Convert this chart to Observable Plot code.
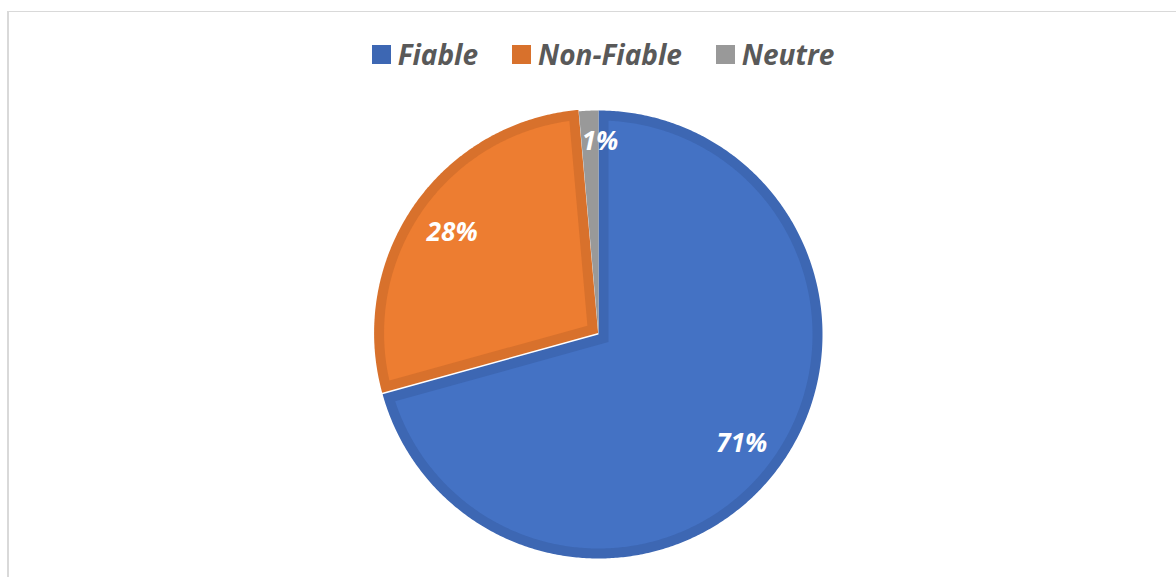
<!DOCTYPE html>
<html><head><meta charset="utf-8">
<script src="https://cdn.jsdelivr.net/npm/d3@7"></script>
<script src="https://cdn.jsdelivr.net/npm/@observablehq/plot@0.6"></script>
<style>
html,body{margin:0;padding:0;background:#fff;overflow:hidden;width:1176px;height:577px;}
#frame{position:absolute;left:7px;top:11px;width:1200px;height:600px;border-top:1px solid #d9d9d9;border-left:2px solid #d9d9d9;box-sizing:border-box;}
#legend{position:absolute;left:0;top:36px;width:1176px;height:36px;box-sizing:border-box;padding-left:30px;display:flex;justify-content:center;align-items:center;font-family:"Open Sans",sans-serif;font-weight:bold;font-style:italic;font-size:28px;color:#595959;}
#legend .item{display:flex;align-items:center;margin:0 17px;}
#legend .sw{width:19px;height:19px;margin-right:7px;}
#chart{position:absolute;left:0;top:80px;}
</style></head><body>
<div id="frame"></div>
<div id="legend"></div>
<div id="chart"></div>
<script>
// ---- data ----
const categories = ["Fiable", "Non-Fiable", "Neutre"];
const values = [70.7, 27.9, 1.4];
const valueLabels = ["71%", "28%", "1%"];

// ---- styles / layout ----
const fills = ["#4472C4", "#ED7D31", "#A0A0A0"];
const edges = ["#3D67B3", "#D8712C", "#999999"];
const insets = [10, 10, 0];
const explode = [0, 1.5, 0];
const labelR = [180, 178, 193];
const labelDx = [0, 0, 10];
const W = 1176, H = 497, cx = 598, cy = 254, R = 224;

// legend (HTML)
const legend = document.getElementById("legend");
categories.forEach((c, i) => {
  const it = document.createElement("div"); it.className = "item";
  const sw = document.createElement("div"); sw.className = "sw"; sw.style.background = edges[i];
  const tx = document.createElement("span"); tx.textContent = c;
  it.appendChild(sw); it.appendChild(tx); legend.appendChild(it);
});

// geometry
const total = d3.sum(values);
const angles = [];
let acc = 0;
values.forEach(v => { const a0 = acc / total * 2 * Math.PI; acc += v; angles.push([a0, acc / total * 2 * Math.PI]); });
const pt = (t, r) => [r * Math.sin(t), -r * Math.cos(t)];

function wedge(t0, t1, r, inset, off, key) {
  const pts = [];
  let a0 = t0, a1 = t1, rr = r;
  if (inset > 0) {
    const half = (t1 - t0) / 2, mid = (t0 + t1) / 2;
    pts.push(pt(mid, inset / Math.sin(half)));
    rr = r - inset;
    const d = Math.asin(inset / rr);
    a0 = t0 + d; a1 = t1 - d;
  } else {
    pts.push([0, 0]);
  }
  const n = Math.max(2, Math.ceil((a1 - a0) / (Math.PI / 360)));
  for (let k = 0; k <= n; k++) pts.push(pt(a0 + (a1 - a0) * k / n, rr));
  pts.push(pts[0]);
  return pts.map(([x, y]) => ({x: x + off[0], y: y + off[1], key}));
}

const marks = [];
categories.forEach((c, i) => {
  const [t0, t1] = angles[i];
  const n0 = [Math.cos(t0), Math.sin(t0)];
  const off = [n0[0] * explode[i], n0[1] * explode[i]];
  marks.push(Plot.line(wedge(t0, t1, R, 0, off, c), {x: "x", y: "y", fill: edges[i], stroke: "none", curve: "linear"}));
  if (insets[i] > 0) marks.push(Plot.line(wedge(t0, t1, R, insets[i], off, c), {x: "x", y: "y", fill: fills[i], stroke: "none", curve: "linear"}));
});

const labelData = categories.map((c, i) => {
  const mid = (angles[i][0] + angles[i][1]) / 2;
  const p = pt(mid, labelR[i]);
  return {x: p[0] + labelDx[i], y: p[1], text: valueLabels[i]};
});
marks.push(Plot.text(labelData, {x: "x", y: "y", text: "text", fill: "white", fontSize: 26, fontWeight: "bold", fontStyle: "italic", fontFamily: "Open Sans, sans-serif"}));

const plot = Plot.plot({
  width: W, height: H, margin: 0,
  x: {domain: [-cx, W - cx], range: [0, W], axis: null},
  y: {domain: [-cy, H - cy], range: [0, H], axis: null},
  style: {background: "transparent", overflow: "visible"},
  marks
});
document.getElementById("chart").appendChild(plot);
</script>
</body></html>
